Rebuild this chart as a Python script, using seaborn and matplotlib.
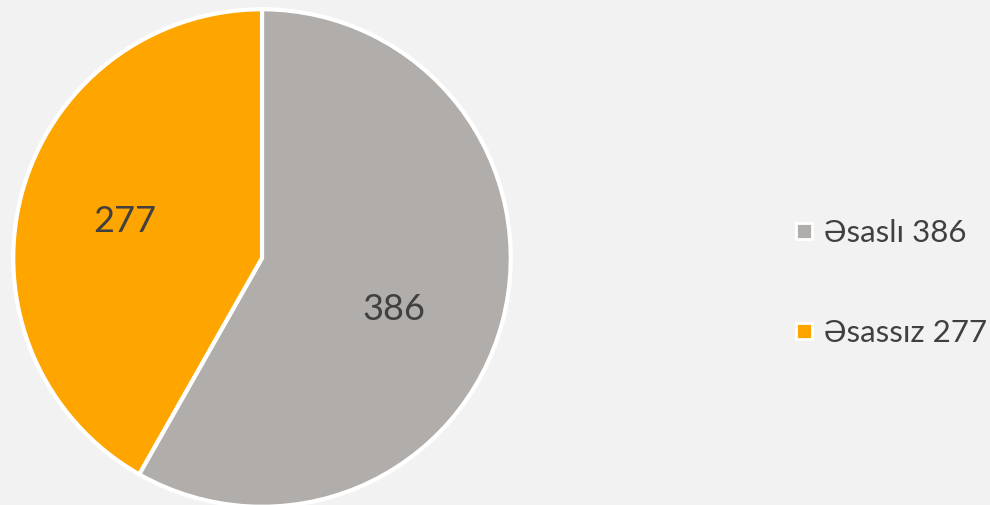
import numpy as np
import pandas as pd
import matplotlib
matplotlib.use('Agg')
import matplotlib.pyplot as plt
from matplotlib.lines import Line2D
import seaborn as sns

categories = ['Əsaslı', 'Əsassız']
values = [386, 277]
colors = ['#b0adab', '#ffa500']

sns.set_theme(style='white')
plt.rcParams['font.family'] = ['Lato', 'DejaVu Sans']

bg = '#f2f2f2'
fig = plt.figure(figsize=(9.9, 5.05), dpi=100, facecolor=bg)
# pie axes placed in pixel terms: centre ~ (262, 258), radius ~ 249
ax = fig.add_axes([12 / 990, -3 / 505, 500 / 990, 500 / 505])
ax.set_facecolor(bg)

wedges, texts, autotexts = ax.pie(
    values, colors=colors, startangle=90, counterclock=False,
    autopct=lambda p: '{:.0f}'.format(p * sum(values) / 100),
    pctdistance=0.57, radius=0.995,
    wedgeprops=dict(edgecolor='white', linewidth=3),
    textprops=dict(color='#404040', fontsize=26))
# nudge the first label slightly down, as in the original
x0, y0 = autotexts[0].get_position()
autotexts[0].set_position((x0 - 0.02, y0 - 0.06))
ax.set_xlim(-1.0, 1.0)
ax.set_ylim(-1.0, 1.0)
ax.set_aspect('equal')
ax.axis('off')

handles = [Line2D([0], [0], marker='s', linestyle='none', markersize=11,
                  markerfacecolor=c, markeredgecolor='white', markeredgewidth=2)
           for c in colors]
labels = [f'{c} {v}' for c, v in zip(categories, values)]
fig.legend(handles, labels, loc='center left', bbox_to_anchor=(777 / 990, 1 - 283 / 505),
           frameon=False, fontsize=22.5, labelcolor='#404040', handletextpad=0.3,
           labelspacing=2.3, handlelength=0.7, borderpad=0)

fig.savefig('out.png', dpi=100, facecolor=bg)
